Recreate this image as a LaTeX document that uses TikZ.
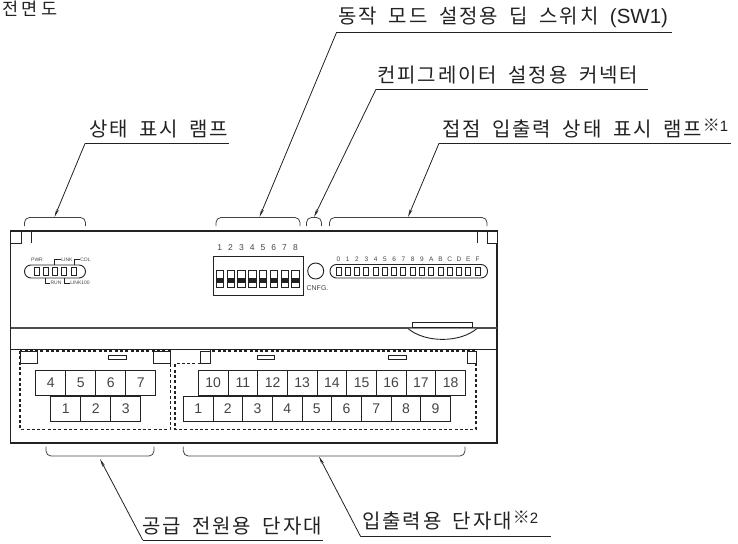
\documentclass[tikz,border=0pt]{standalone}
\usepackage{fontspec}
\setmainfont{Liberation Sans}
\newfontfamily\krfont[LetterSpace=9.5,WordSpace=1.8]{Noto Sans CJK KR}
\newfontfamily\krtitle[LetterSpace=18]{Noto Sans CJK KR}
\newfontfamily\kmark{Noto Sans CJK KR}
\usetikzlibrary{arrows.meta}
\definecolor{ink}{HTML}{222222}
\definecolor{txt}{HTML}{444444}
\newcommand{\refmark}[1]{\hspace{1pt}\raisebox{5pt}{\kmark\fontsize{17}{18}\selectfont ※}\raisebox{5pt}{\normalfont\fontsize{15}{16}\selectfont #1}}
\tikzset{
  x=1pt,y=-1pt,
  caption/.style={font=\krfont\fontsize{20}{22}\selectfont,text=ink,inner sep=0pt,anchor=base west},
  leader/.style={draw=ink,line width=.8pt},
  tip/.style={-{Stealth[length=8pt,width=2.8pt]}},
  bracket/.style={draw=ink!85,line width=.8pt,rounded corners=5pt},
  body/.style={draw=ink,line width=1.3pt},
  thinbox/.style={draw=ink,line width=.9pt,fill=white},
  cell/.style={draw=ink,line width=.9pt,minimum width=29.7pt,minimum height=25.7pt,inner sep=0pt,text=txt,font=\fontsize{14}{15}\selectfont},
  cellw/.style={cell,minimum width=30pt},
  dashbox/.style={draw=ink,line width=1.1pt,dash pattern=on 3pt off 2.3pt},
  tiny/.style={font=\fontsize{5}{6}\selectfont,text=txt,inner sep=0pt},
  led/.style={font=\fontsize{6.5}{7}\selectfont,text=txt,inner sep=0pt},
  dipn/.style={font=\fontsize{8.5}{9}\selectfont,text=txt,inner sep=0pt},
  lamp/.style={draw=ink,line width=.9pt,fill=white,minimum width=5pt,minimum height=8pt,inner sep=0pt},
  pill/.style={draw=ink,line width=.9pt,rounded corners=6.5pt},
  tag/.style={draw=ink,line width=.6pt}
}
\begin{document}
\begin{tikzpicture}
\useasboundingbox (0,0) rectangle (738,543);

% outer body
\path[body] (10.5,231) rectangle (497,443);
\draw[draw=ink!80,line width=1.4pt] (10.5,328) -- (497,328);
\draw[draw=ink,line width=.9pt] (10.5,349) -- (497,349);
\draw[thinbox] (10.5,231) rectangle (21,243);
\draw[thinbox] (31.5,231) -- (31.5,243);
\draw[thinbox] (477,231) -- (477,243);
\draw[thinbox] (487,231) rectangle (497,243);
\draw[body] (10.5,231) -- (497,231);

% release tab
\draw[thinbox] (408,328.5) .. controls (425,343) and (460,343) .. (477,328.5);
\draw[thinbox] (412.7,322.3) rectangle (472.7,327.5);

% status lamps
\draw[pill] (24.5,265) rectangle (85.5,278);
\foreach \x [count=\i] in {36.8,45.5,55,64,73.5}
  \node[lamp] (st\i) at (\x,271.5) {};
\node[tiny] (pwr) at (37,259.5) {PWR};
\node[tiny] (link) at (67,259.5) {LINK};
\node[tiny] (col) at (85.5,259.5) {COL};
\node[tiny] (run) at (56,283) {RUN};
\node[tiny] (link100) at (80,283) {LINK100};
\draw[tag] (54.5,265) |- (link.west);
\draw[tag] (74,265) |- (col.west);
\draw[tag] (45.7,278) |- (run.west);
\draw[tag] (64,278) |- (link100.west);

% DIP switch
\draw[draw=ink,line width=.9pt] (213.5,256) rectangle (303,295);
\foreach \i in {1,...,8}{
  \pgfmathsetmacro{\xx}{219.8+10.8*(\i-1)}
  \node[dipn] (dipn\i) at (\xx,247.7) {\i};
  \node[draw=ink,line width=.7pt,minimum width=7.3pt,minimum height=17pt,inner sep=0pt] (dip\i) at (\xx,279) {};
  \fill[ink] (\xx-3.6,278.3) rectangle (\xx+3.6,283);
}

% configurator connector
\node[draw=ink,line width=.9pt,circle,minimum size=16pt,inner sep=0pt] (cnfg) at (315.7,271) {};
\node[font=\fontsize{7}{8}\selectfont,text=txt,inner sep=0pt] (cnfgt) at (317.5,288) {CNFG.};

% contact lamps
\draw[pill] (330,264.5) rectangle (487.5,278);
\foreach \t [count=\i from 0] in {0,1,2,3,4,5,6,7,8,9,A,B,C,D,E,F}{
  \pgfmathsetmacro{\xx}{338.5+9.27*\i}
  \node[lamp] (cl\i) at (\xx,271.3) {};
  \node[led] (cn\i) at (\xx,259) {\t};
}

% terminal covers
\draw[dashbox] (20,351) rectangle (170.7,429.3);
\draw[dashbox] (200.7,363.5) -- (175,363.5) -- (175,429.3) -- (476,429.3) -- (476,351) -- (210,351);
\draw[thinbox] (20,351) rectangle (37,363.5);
\draw[thinbox] (153.5,351) rectangle (170.7,363.5);
\draw[thinbox] (200.7,351) rectangle (210,363.5);
\draw[thinbox] (467.7,351) rectangle (476,363.5);
\draw[thinbox] (108.7,355) rectangle (126.7,359.7);
\draw[thinbox] (257.3,355) rectangle (274.7,359.7);
\draw[thinbox] (388.3,355) rectangle (406,359.7);

% terminals
\foreach \t [count=\i from 0] in {4,5,6,7}{
  \pgfmathsetmacro{\xx}{50.7+30*\i}
  \node[cellw] (pa\t) at (\xx,383) {\t};
}
\foreach \t [count=\i from 0] in {1,2,3}{
  \pgfmathsetmacro{\xx}{65.7+30*\i}
  \node[cellw] (pb\t) at (\xx,408.8) {\t};
}
\foreach \t [count=\i from 0] in {10,...,18}{
  \pgfmathsetmacro{\xx}{213.2+29.67*\i}
  \node[cell] (ia\t) at (\xx,383) {\t};
}
\foreach \t [count=\i from 0] in {1,...,9}{
  \pgfmathsetmacro{\xx}{198.2+29.67*\i}
  \node[cell] (ib\t) at (\xx,408.8) {\t};
}

% brackets
\draw[bracket] (24.5,226) -- (24.5,217.5) -- (85.5,217.5) -- (85.5,226);
\draw[bracket] (216,226) -- (216,217.5) -- (300,217.5) -- (300,226);
\draw[bracket] (306.5,226) -- (306.5,217.5) -- (321.5,217.5) -- (321.5,226);
\draw[bracket] (329.5,226) -- (329.5,217.5) -- (487,217.5) -- (487,226);
\draw[bracket] (46,446.5) -- (46,456) -- (154,456) -- (154,446.5);
\draw[bracket] (183.3,446.5) -- (183.3,456) -- (465,456) -- (465,446.5);

% captions
\node[caption,font=\krtitle\fontsize{17.5}{20}\selectfont] (front) at (2.5,16) {전면도};
\node[caption] (capa) at (89,136) {상태 표시 램프};
\node[caption] (capb) at (338.5,23.5) {동작 모드 설정용 딥 스위치 {\normalfont\fontsize{20.5}{22}\selectfont (SW1)}};
\node[caption] (capc) at (377,82) {컨피그레이터 설정용 커넥터};
\node[caption] (capd) at (442,136) {접점 입출력 상태 표시 램프\refmark{1}};
\node[caption] (cape) at (142,533) {공급 전원용 단자대};
\node[caption] (capf) at (362,528) {입출력용 단자대\refmark{2}};

% leaders
\coordinate (ua) at (85,143.5); \coordinate (uae) at (229,143.5); \coordinate (ta) at (54.5,217);
\coordinate (ub) at (336.7,32); \coordinate (ube) at (671.7,32); \coordinate (tb) at (259.5,217);
\coordinate (uc) at (376,89.3); \coordinate (uce) at (647.7,89.3); \coordinate (tc) at (314,217);
\coordinate (ud) at (439,143.3); \coordinate (ude) at (731,143.3); \coordinate (td) at (408,217);
\coordinate (ue) at (142.7,540); \coordinate (uee) at (323,540); \coordinate (te) at (100,459);
\coordinate (uf) at (360.7,536.7); \coordinate (ufe) at (550.7,536.7); \coordinate (tf) at (319,456.5);
\foreach \a/\b/\c in {ua/uae/ta,ub/ube/tb,uc/uce/tc,ud/ude/td,ue/uee/te,uf/ufe/tf}{
  \draw[leader] (\a) -- (\b);
  \draw[leader,tip] (\a) -- (\c);
}
\end{tikzpicture}
\end{document}
